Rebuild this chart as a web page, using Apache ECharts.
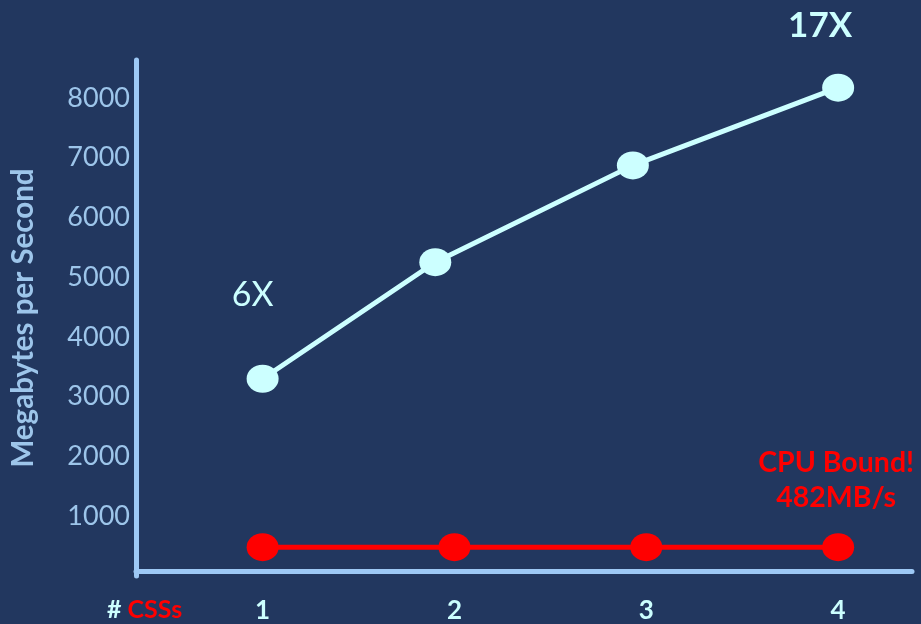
<!DOCTYPE html>
<html>
<head>
<meta charset="utf-8">
<script src="https://cdn.jsdelivr.net/npm/echarts@6/dist/echarts.min.js"></script>
<style>
  html, body { margin: 0; padding: 0; background: #22375F; }
  #chart { width: 921px; height: 624px; }
</style>
</head>
<body>
<div id="chart"></div>
<script>
// Number of CSS units (x categories)
const cssCounts = [1, 2, 3, 4];
// x placement of the accelerated throughput points
const accelX = [1, 1.9, 2.93, 4];
// Accelerated throughput, MB/s
const accelMBps = [3300, 5250, 6870, 8170];
// CPU-only throughput, MB/s
const cpuMBps = [482, 482, 482, 482];
// Y tick labels
const yTicks = [1000, 2000, 3000, 4000, 5000, 6000, 7000, 8000];
// Speed-up annotations
const speedupStart = '6X';
const speedupEnd = '17X';
const cpuNote = ['CPU Bound!', '482MB/s'];

const axisBlue = '#9DC8F5';
const labelBlue = '#9DC5EA';
const cyan = '#CCFFFF';
const red = '#FF0000';
const font = 'Lato, "Open Sans", sans-serif';

const chart = echarts.init(document.getElementById('chart'), null, { renderer: 'canvas' });

const accelData = accelX.map((x, i) => {
  const item = { value: [x, accelMBps[i]] };
  if (i === 0) {
    item.label = {
      show: true, formatter: speedupStart, position: 'inside', offset: [-10, -84],
      color: cyan, fontSize: 34, fontWeight: 'normal', fontFamily: font
    };
  } else if (i === accelX.length - 1) {
    item.label = {
      show: true, formatter: speedupEnd, position: 'inside', offset: [-18, -62],
      color: cyan, fontSize: 35, fontWeight: 'bold', fontFamily: font
    };
  }
  return item;
});

const cpuData = cssCounts.map((x, i) => {
  const item = { value: [x, cpuMBps[i]] };
  if (i === cssCounts.length - 1) {
    item.label = {
      show: true, formatter: cpuNote.join('\n'), position: 'inside', offset: [-2, -67],
      color: red, fontSize: 28.5, fontWeight: 'bold', fontFamily: font,
      lineHeight: 35, align: 'center'
    };
  }
  return item;
});

chart.setOption({
  backgroundColor: '#22375F',
  animation: false,
  grid: { left: 134, right: 9, top: 60, bottom: 46 },
  xAxis: {
    type: 'value',
    min: 0.34,
    max: 4.385,
    offset: -5,
    axisLine: { show: true, lineStyle: { color: axisBlue, width: 5 } },
    axisTick: { show: false },
    splitLine: { show: false },
    axisLabel: {
      customValues: cssCounts,
      formatter: v => String(Math.round(v)),
      color: cyan, fontSize: 26, fontWeight: 'bold', fontFamily: font,
      margin: 27
    }
  },
  yAxis: {
    type: 'value',
    min: 0,
    max: 8633,
    name: 'Megabytes per Second',
    nameLocation: 'middle',
    nameGap: 98,
    nameRotate: 90,
    nameTextStyle: { color: labelBlue, fontSize: 29.5, fontWeight: 'bold', fontFamily: font },
    axisLine: { show: true, lineStyle: { color: axisBlue, width: 5 } },
    axisTick: { show: false },
    splitLine: { show: false },
    axisLabel: {
      customValues: yTicks,
      formatter: v => String(v),
      color: labelBlue, fontSize: 27, fontFamily: font, margin: 6
    }
  },
  graphic: [{
    type: 'text',
    left: 107,
    top: 597,
    style: {
      text: '{a|# }{b|CSSs}',
      rich: {
        a: { fill: cyan, fontSize: 25, fontWeight: 'bold', fontFamily: font },
        b: { fill: red, fontSize: 25, fontWeight: 'bold', fontFamily: font }
      }
    }
  }],
  series: [{
    type: 'line',
    data: accelData,
    symbol: 'circle',
    symbolSize: [32, 28],
    lineStyle: { color: cyan, width: 5 },
    itemStyle: { color: cyan },
    z: 3
  }, {
    type: 'line',
    data: cpuData,
    symbol: 'circle',
    symbolSize: [32, 28],
    lineStyle: { color: red, width: 5 },
    itemStyle: { color: red },
    z: 2
  }]
});
</script>
</body>
</html>
